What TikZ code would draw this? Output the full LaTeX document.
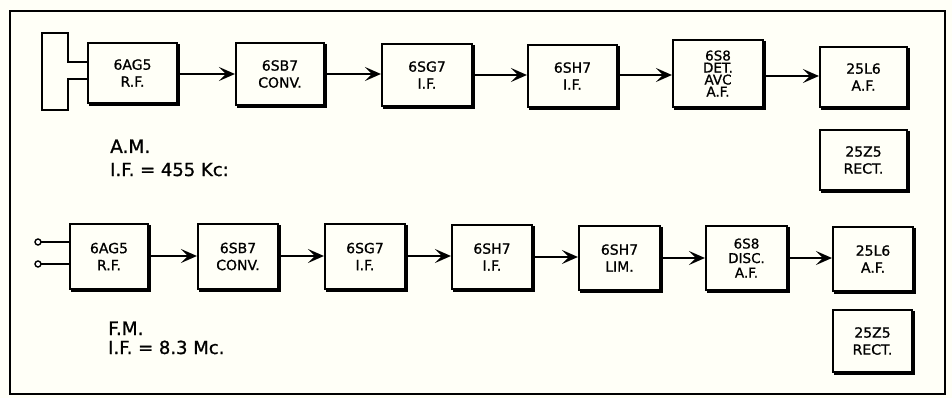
\documentclass[tikz,border=0pt]{standalone}
\usepackage{fontspec}
\setmainfont{DejaVu Sans}
\newfontfamily\heavy{DejaVu Sans}[FakeBold=0.9]
\usetikzlibrary{arrows.meta,calc}
\begin{document}
\begin{tikzpicture}[x=1pt,y=-1pt,
  tube/.style={draw, line width=2.1pt, inner sep=0pt, align=center,
    font=\heavy\fontsize{14}{17}\selectfont},
  conn/.style={line width=1.9pt, -{Stealth[length=16pt,width=14pt,inset=7pt]}},
  wire/.style={line width=2pt},
  lbl/.style={anchor=base west, inner sep=0pt, font=\heavy\fontsize{18.5}{20}\selectfont}
]
\useasboundingbox (0,0) rectangle (952,398);
\fill[white!97!yellow] (0,0) rectangle (952,398);
\draw[line width=2.8pt] (10,11) rectangle (945,394);

% ---- A.M. row ----
\node[tube, minimum width=89pt, minimum height=60pt] (a1) at (132.5,73) {6AG5\\R.F.};
\node[tube, minimum width=88pt, minimum height=62pt] (a2) at (280,74) {6SB7\\CONV.};
\node[tube, minimum width=90pt, minimum height=62pt] (a3) at (427,75) {6SG7\\I.F.};
\node[tube, minimum width=89pt, minimum height=62pt] (a4) at (572.5,76) {6SH7\\I.F.};
\node[tube, minimum width=90pt, minimum height=67pt, font=\heavy\fontsize{13.5}{12}\selectfont] (a5) at (718,73.5) {6S8\\DET.\\AVC\\A.F.};
\node[tube, minimum width=87pt, minimum height=60pt] (a6) at (863.5,77) {25L6\\A.F.};
\node[tube, minimum width=87pt, minimum height=60pt] (a7) at (863.5,160) {25Z5\\RECT.};

\draw[conn] (a1.east |- 0,74) -- (a2.west |- 0,74);
\draw[conn] (a2.east |- 0,74) -- (a3.west |- 0,74);
\draw[conn] (a3.east |- 0,75) -- (a4.west |- 0,75);
\draw[conn] (a4.east |- 0,75) -- (a5.west |- 0,75);
\draw[conn] (a5.east |- 0,76) -- (a6.west |- 0,76);

% antenna T-shape
\coordinate (ant1) at (88,62);
\coordinate (ant2) at (88,79);
\draw[wire, line join=miter] (a1.west |- ant1) -- (68,62) -- (68,33) -- (42,33) -- (42,110) -- (68,110) -- (68,79) -- (a1.west |- ant2);

\node[lbl] (amlabel) at (110,153) {A.M.};
\node[lbl, font=\heavy\fontsize{18}{20}\selectfont] (amif) at (110,176) {I.F. = 455 Kc:};

% ---- F.M. row ----
\node[tube, minimum width=78pt, minimum height=65pt] (f1) at (109,256.5) {6AG5\\R.F.};
\node[tube, minimum width=80pt, minimum height=65pt] (f2) at (238,256.5) {6SB7\\CONV.};
\node[tube, minimum width=80pt, minimum height=65pt] (f3) at (365,256.5) {6SG7\\I.F.};
\node[tube, minimum width=80pt, minimum height=64pt] (f4) at (492,257) {6SH7\\I.F.};
\node[tube, minimum width=81pt, minimum height=64pt] (f5) at (619.5,258) {6SH7\\LIM.};
\node[tube, minimum width=81pt, minimum height=64pt, font=\heavy\fontsize{13.5}{14.5}\selectfont] (f6) at (746.5,258) {6S8\\DISC.\\A.F.};
\node[tube, minimum width=80pt, minimum height=64pt] (f7) at (873,259) {25L6\\A.F.};
\node[tube, minimum width=79pt, minimum height=62pt] (f8) at (872.5,341) {25Z5\\RECT.};

\draw[conn] (f1.east |- 0,256) -- (f2.west |- 0,256);
\draw[conn] (f2.east |- 0,256) -- (f3.west |- 0,256);
\draw[conn] (f3.east |- 0,256) -- (f4.west |- 0,256);
\draw[conn] (f4.east |- 0,257) -- (f5.west |- 0,257);
\draw[conn] (f5.east |- 0,258) -- (f6.west |- 0,258);
\draw[conn] (f6.east |- 0,258) -- (f7.west |- 0,258);

% input terminals
\coordinate (t1) at (38,242);
\coordinate (t2) at (38,264);
\draw[wire] (t1) ++(3,0) -- (t1 -| f1.west);
\draw[wire] (t2) ++(3,0) -- (t2 -| f1.west);
\draw[line width=1.4pt, fill=white] (t1) circle (3);
\draw[line width=1.4pt, fill=white] (t2) circle (3);

\node[lbl] (fmlabel) at (108,335) {F.M.};
\node[lbl, font=\heavy\fontsize{18}{20}\selectfont] (fmif) at (108,354) {I.F. = 8.3 Mc.};

% heavier bottom/right edges of the boxes
\foreach \n in {a1,a2,a3,a4,a5,a6,a7,f1,f2,f3,f4,f5,f6,f7,f8}{
  \draw[line width=1.8pt] ($(\n.north east)+(0.9,2)$) -- ($(\n.south east)+(0.9,0.9)$) -- ($(\n.south west)+(2,0.9)$);
}
\end{tikzpicture}
\end{document}
